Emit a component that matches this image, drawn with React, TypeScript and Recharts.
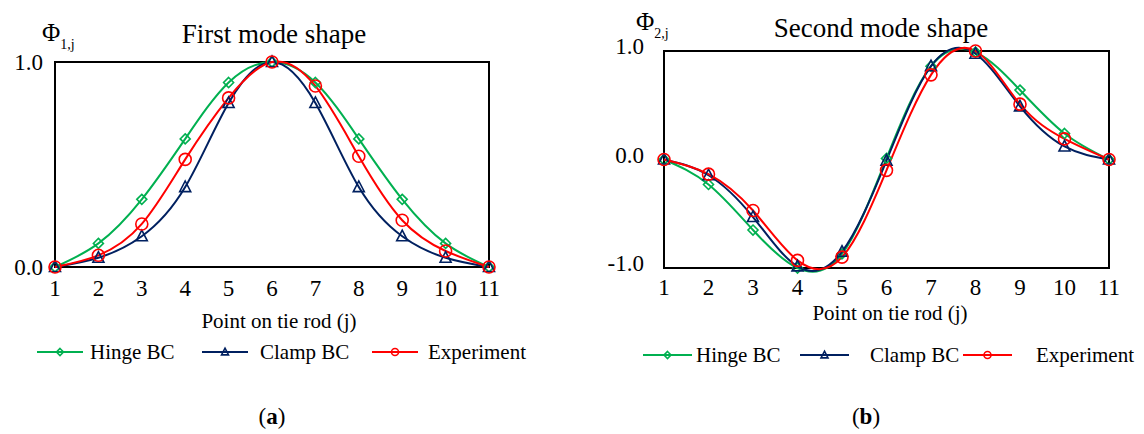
import React from 'react';
import { LineChart, Line, XAxis, YAxis, ReferenceArea } from 'recharts';

// Points along the tie rod (j)
const POINTS = [1, 2, 3, 4, 5, 6, 7, 8, 9, 10, 11];

// First mode shape
const HINGE_1 = [0, 0.115, 0.33, 0.625, 0.9, 1, 0.9, 0.625, 0.33, 0.115, 0];
const CLAMP_1 = [0, 0.045, 0.15, 0.39, 0.8, 1, 0.8, 0.39, 0.15, 0.045, 0];
const EXP_1 = [0, 0.057, 0.21, 0.525, 0.825, 1, 0.883, 0.54, 0.228, 0.078, 0];

// Second mode shape
const HINGE_2 = [0, -0.23, -0.65, -1.0, -0.87, 0.01, 0.86, 0.99, 0.64, 0.24, 0];
const CLAMP_2 = [0, -0.145, -0.53, -0.985, -0.85, -0.01, 0.86, 0.975, 0.49, 0.12, 0];
const EXP_2 = [0, -0.135, -0.47, -0.93, -0.9, -0.1, 0.78, 1.0, 0.51, 0.19, 0];

const Y_TICKS_1 = [0, 1];
const Y_TICKS_2 = [-1, 0, 1];

const SERIES = [
  { key: 'hinge', name: 'Hinge BC', color: '#00B050', marker: 'diamond' },
  { key: 'clamp', name: 'Clamp BC', color: '#002060', marker: 'triangle' },
  { key: 'exp', name: 'Experiment', color: '#FF0000', marker: 'circle' },
];

const FONT = '"Liberation Serif", "DejaVu Serif", serif';

const buildRows = (hinge: number[], clamp: number[], exp: number[]) =>
  POINTS.map((j, i) => ({ j, hinge: hinge[i], clamp: clamp[i], exp: exp[i] }));

const rows1 = buildRows(HINGE_1, CLAMP_1, EXP_1);
const rows2 = buildRows(HINGE_2, CLAMP_2, EXP_2);

const Marker = ({ cx, cy, color, kind, s }: any) => {
  if (cx == null || cy == null) return null;
  if (kind === 'diamond') {
    return (
      <path
        d={`M${cx},${cy - s} L${cx + s},${cy} L${cx},${cy + s} L${cx - s},${cy} Z`}
        fill="none"
        stroke={color}
        strokeWidth={1.6}
      />
    );
  }
  if (kind === 'triangle') {
    const h = s * 1.1;
    return (
      <path
        d={`M${cx},${cy - h} L${cx + s},${cy + h * 0.75} L${cx - s},${cy + h * 0.75} Z`}
        fill="none"
        stroke={color}
        strokeWidth={1.6}
      />
    );
  }
  return <circle cx={cx} cy={cy} r={s} fill="none" stroke={color} strokeWidth={1.6} />;
};

const XTick = ({ x, y, payload }: any) => (
  <text x={x} y={y} dy="0.71em" textAnchor="middle" fontSize={23} fill="#000" fontFamily={FONT}>
    {payload.value}
  </text>
);

const makeYTick = (shift: number) => (props: any) => {
  const { x, y, payload } = props;
  return (
    <text
      x={x}
      y={y + shift}
      dy="0.355em"
      textAnchor="end"
      fontSize={23}
      fill="#000"
      fontFamily={FONT}
    >
      {Number(payload.value).toFixed(1)}
    </text>
  );
};

const sizes: Record<string, number> = { diamond: 5, triangle: 5.5, circle: 6 };

interface ModeChartProps {
  rows: any[];
  domain: [number, number];
  yTicks: number[];
  width: number;
  top: number;
  right: number;
  axisW: number;
  axisH: number;
  yTickMargin: number;
  xTickMargin: number;
  yShift: number;
}

const ModeChart = ({ rows, domain, yTicks, width, top, right, axisW, axisH, yTickMargin, xTickMargin, yShift }: ModeChartProps) => (
  <LineChart width={width} height={434} data={rows} margin={{ top, right, bottom: 0, left: 0 }}>
    <XAxis
      dataKey="j"
      type="number"
      domain={[1, 11]}
      ticks={POINTS}
      height={axisH}
      axisLine={false}
      tickLine={false}
      tickMargin={xTickMargin}
      tick={<XTick />}
      interval={0}
    />
    <YAxis
      type="number"
      domain={domain}
      ticks={yTicks}
      width={axisW}
      axisLine={false}
      tickLine={false}
      tickMargin={yTickMargin}
      tick={makeYTick(yShift)}
      interval={0}
    />
    <ReferenceArea
      x1={1}
      x2={11}
      y1={domain[0]}
      y2={domain[1]}
      fill="none"
      fillOpacity={0}
      stroke="#000"
      strokeWidth={2}
      ifOverflow="visible"
    />
    {SERIES.map((s) => (
      <Line
        key={s.key}
        dataKey={s.key}
        name={s.name}
        type="natural"
        stroke={s.color}
        strokeWidth={2}
        isAnimationActive={false}
        dot={(p: any) => (
          <Marker key={`${s.key}-${p.index}`} cx={p.cx} cy={p.cy} color={s.color} kind={s.marker} s={sizes[s.marker]} />
        )}
        activeDot={false}
      />
    ))}
  </LineChart>
);

const LegendRow = ({ lineX, textX, top, lineW }: { lineX: number[]; textX: number[]; top: number; lineW: number }) => (
  <>
    {SERIES.map((s, i) => (
      <React.Fragment key={s.key}>
        <svg
          width={lineW}
          height={14}
          style={{ position: 'absolute', left: lineX[i], top: top - 7, overflow: 'visible' }}
        >
          <line x1={0} y1={7} x2={lineW} y2={7} stroke={s.color} strokeWidth={2.2} />
          <Marker cx={lineW / 2} cy={7} color={s.color} kind={s.marker} s={3.5} />
        </svg>
        <div
          style={{
            position: 'absolute',
            left: textX[i],
            top: top - 12,
            fontSize: 21,
            lineHeight: '24px',
            whiteSpace: 'nowrap',
            fontFamily: FONT,
          }}
        >
          {s.name}
        </div>
      </React.Fragment>
    ))}
  </>
);

const abs = (left: number, top: number, extra: React.CSSProperties = {}): React.CSSProperties => ({
  position: 'absolute',
  left,
  top,
  transform: 'translate(-50%, -50%)',
  lineHeight: 1,
  whiteSpace: 'nowrap',
  fontFamily: FONT,
  ...extra,
});

export default function App() {
  return (
    <div
      style={{
        position: 'absolute',
        left: 0,
        top: 0,
        width: 1144,
        height: 434,
        background: '#fff',
        fontFamily: FONT,
        color: '#000',
        overflow: 'hidden',
      }}
    >
      <div style={{ position: 'absolute', left: 0, top: 0 }}>
        <ModeChart
          rows={rows1}
          domain={[0, 1]}
          yTicks={Y_TICKS_1}
          width={560}
          top={62}
          right={71}
          axisW={55}
          axisH={167}
          yTickMargin={6}
          xTickMargin={7}
          yShift={0}
        />
      </div>
      <div style={{ position: 'absolute', left: 580, top: 0 }}>
        <ModeChart
          rows={rows2}
          domain={[-1, 1]}
          yTicks={Y_TICKS_2}
          width={564}
          top={51}
          right={35}
          axisW={84}
          axisH={166}
          yTickMargin={14}
          xTickMargin={5}
          yShift={-5}
        />
      </div>

      {/* titles */}
      <div style={abs(274, 34, { fontSize: 27 })}>First mode shape</div>
      <div style={abs(881, 28, { fontSize: 27 })}>Second mode shape</div>

      {/* y-axis symbols */}
      <div style={{ position: 'absolute', left: 42, top: 20, fontSize: 25, lineHeight: 1, whiteSpace: 'nowrap', fontFamily: FONT }}>
        Φ<span style={{ fontSize: 14, position: 'relative', top: 8 }}>1,j</span>
      </div>
      <div style={{ position: 'absolute', left: 636, top: 9, fontSize: 25, lineHeight: 1, whiteSpace: 'nowrap', fontFamily: FONT }}>
        Φ<span style={{ fontSize: 14, position: 'relative', top: 8 }}>2,j</span>
      </div>

      {/* x-axis labels */}
      <div style={abs(279, 321, { fontSize: 21 })}>Point on tie rod (j)</div>
      <div style={abs(890, 313, { fontSize: 21 })}>Point on tie rod (j)</div>

      {/* legends */}
      <LegendRow lineX={[37, 202, 372]} textX={[90, 260, 428]} top={352} lineW={46} />
      <LegendRow lineX={[643, 800, 963]} textX={[696, 870, 1036]} top={355} lineW={49} />

      {/* panel captions */}
      <div style={abs(272, 416, { fontSize: 23 })}>
        (<b>a</b>)
      </div>
      <div style={abs(866, 416, { fontSize: 23 })}>
        (<b>b</b>)
      </div>
    </div>
  );
}
